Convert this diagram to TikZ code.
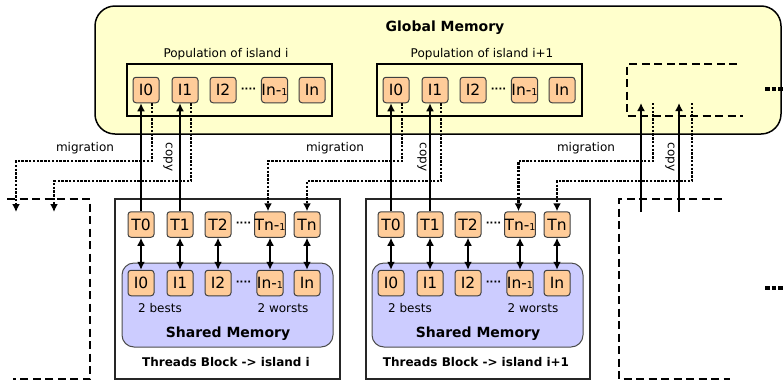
\documentclass[tikz,border=0pt]{standalone}
\usepackage{fontspec}
\setmainfont{DejaVu Sans}
\usetikzlibrary{arrows.meta}

\definecolor{globalyellow}{HTML}{FFFFCC}
\definecolor{cellorange}{HTML}{FFCC99}
\definecolor{memblue}{HTML}{CCCCFF}

\tikzset{
    cell/.style={draw=black!75, line width=1pt, fill=cellorange, rounded corners=3pt,
        minimum width=26pt, minimum height=25.5pt, inner sep=0pt, font=\fontsize{15.5}{15.5}\selectfont},
    lbl/.style={inner sep=0pt, font=\fontsize{12}{12}\selectfont},
    heading/.style={inner sep=0pt, font=\bfseries\fontsize{14}{14}\selectfont},
    blocklabel/.style={inner sep=0pt, font=\bfseries\fontsize{12}{12}\selectfont},
    celldots/.style={inner sep=0pt, font=\bfseries\fontsize{10}{10}\selectfont},
    copyarrow/.style={line width=2.5pt, -{Latex[length=8pt,width=8pt]}},
    duplex/.style={line width=2.5pt, {Latex[length=8pt,width=8pt]}-{Latex[length=8pt,width=8pt]}},
    migr/.style={line width=2.4pt, dash pattern=on 2.4pt off 1.4pt, -{Latex[length=8pt,width=8pt]}},
    phantom/.style={line width=2.4pt, dash pattern=on 8pt off 4.5pt},
    moredots/.style={line width=4.5pt, dash pattern=on 4.5pt off 2pt},
}

\begin{document}
\begin{tikzpicture}[x=1pt, y=-1pt]
    \useasboundingbox (0,0) rectangle (783,381);

    % Global memory
    \draw[line width=1.5pt, fill=globalyellow, rounded corners=20pt] (95,6) rectangle (781,134);
    \node[heading] (glob) at (445,28) {Global Memory};

    % Island i
    \begin{scope}[shift={(0,0)}]
        \draw[line width=1.6pt] (127,64) rectangle (332,116);
        \node[lbl] (popA) at (226,54) {Population of island i};
        \node[cell] (gA0) at (146,90) {I0};
        \node[cell] (gA1) at (185,90) {I1};
        \node[cell] (gA2) at (223,90) {I2};
        \node[celldots] (gAd) at (248.5,90) {····};
        \node[cell] (gAm) at (274.5,90) {In-{\fontsize{9.5}{10}\selectfont 1}};
        \node[cell] (gAn) at (312,90) {In};
        % threads block
        \draw[line width=1.6pt, draw=black!85] (115,199) rectangle (340,379);
        \draw[draw=black!70, line width=1pt, fill=memblue, rounded corners=12pt] (122,263) rectangle (333,347);
        \node[cell] (tA0) at (141,224.5) {T0};
        \node[cell] (tA1) at (180,224.5) {T1};
        \node[cell] (tA2) at (218,224.5) {T2};
        \node[celldots] (tAd) at (243.5,224.5) {····};
        \node[cell] (tAm) at (270,224.5) {Tn-{\fontsize{9.5}{10}\selectfont 1}};
        \node[cell] (tAn) at (307,224.5) {Tn};
        \node[cell] (sA0) at (141,283) {I0};
        \node[cell] (sA1) at (180,283) {I1};
        \node[cell] (sA2) at (218,283) {I2};
        \node[celldots] (sAd) at (243.5,283) {····};
        \node[cell] (sAm) at (270,283) {In-{\fontsize{9.5}{10}\selectfont 1}};
        \node[cell] (sAn) at (307,283) {In};
        \node[lbl] (bestA) at (160,308) {2 bests};
        \node[lbl] (worstA) at (283,308) {2 worsts};
        \node[heading] (shA) at (228,334) {Shared Memory};
        \node[blocklabel] (blkA) at (226,362) {Threads Block -> island i};
        \draw[duplex] (tA0) -- (sA0);
        \draw[duplex] (tA1) -- (sA1);
        \draw[duplex] (tA2) -- (sA2);
        \draw[duplex] (tAm) -- (sAm);
        \draw[duplex] (tAn) -- (sAn);
        \draw[copyarrow] (tA0.north) -- (tA0.north |- gA0.south);
        \draw[copyarrow] (tA1.north) -- (tA1.north |- gA1.south);
    \end{scope}

    % Island i+1
    \begin{scope}[shift={(250,0)}]
        \draw[line width=1.6pt] (127,64) rectangle (332,116);
        \node[lbl] (popB) at (232,54) {Population of island i+1};
        \node[cell] (gB0) at (146,90) {I0};
        \node[cell] (gB1) at (185,90) {I1};
        \node[cell] (gB2) at (223,90) {I2};
        \node[celldots] (gBd) at (248.5,90) {····};
        \node[cell] (gBm) at (274.5,90) {In-{\fontsize{9.5}{10}\selectfont 1}};
        \node[cell] (gBn) at (312,90) {In};
        % threads block
        \draw[line width=1.6pt, draw=black!85] (116,199) rectangle (340,379);
        \draw[draw=black!70, line width=1pt, fill=memblue, rounded corners=12pt] (122,263) rectangle (333,347);
        \node[cell] (tB0) at (141,224.5) {T0};
        \node[cell] (tB1) at (180,224.5) {T1};
        \node[cell] (tB2) at (218,224.5) {T2};
        \node[celldots] (tBd) at (243.5,224.5) {····};
        \node[cell] (tBm) at (270,224.5) {Tn-{\fontsize{9.5}{10}\selectfont 1}};
        \node[cell] (tBn) at (307,224.5) {Tn};
        \node[cell] (sB0) at (141,283) {I0};
        \node[cell] (sB1) at (180,283) {I1};
        \node[cell] (sB2) at (218,283) {I2};
        \node[celldots] (sBd) at (243.5,283) {····};
        \node[cell] (sBm) at (270,283) {In-{\fontsize{9.5}{10}\selectfont 1}};
        \node[cell] (sBn) at (307,283) {In};
        \node[lbl] (bestB) at (160,308) {2 bests};
        \node[lbl] (worstB) at (283,308) {2 worsts};
        \node[heading] (shB) at (228,334) {Shared Memory};
        \node[blocklabel] (blkB) at (226,362) {Threads Block -> island i+1};
        \draw[duplex] (tB0) -- (sB0);
        \draw[duplex] (tB1) -- (sB1);
        \draw[duplex] (tB2) -- (sB2);
        \draw[duplex] (tBm) -- (sBm);
        \draw[duplex] (tBn) -- (sBn);
        \draw[copyarrow] (tB0.north) -- (tB0.north |- gB0.south);
        \draw[copyarrow] (tB1.north) -- (tB1.north |- gB1.south);
    \end{scope}

    % Neighbouring islands, only hinted at
    \draw[phantom] (7,199) -- (90,199) -- (90,379) -- (13,379);
    \draw[phantom] (737,64) -- (627,64) -- (627,116) -- (743,116);
    \draw[phantom] (722,199) -- (619,199) -- (619,379) -- (730,379);
    \draw[moredots] (765,89) -- (783,89);
    \draw[moredots] (765,288) -- (783,288);
    \coordinate (tZm) at (16,212);
    \coordinate (tZn) at (54,212);
    \coordinate (tC0) at (641,212);
    \coordinate (tC1) at (679,212);
    \coordinate (gC0) at (646,103);
    \coordinate (gC1) at (685,103);
    \draw[copyarrow] (tC0) -- (tC0 |- gC0);
    \draw[copyarrow] (tC1) -- (tC1 |- gC1);

    % Migration between islands
    \draw[migr] ([xshift=6pt]gA0.south) -- ++(0,58) -| (tZm);
    \draw[migr] ([xshift=6pt]gA1.south) -- ++(0,78) -| (tZn);
    \draw[migr] ([xshift=6pt]gB0.south) -- ++(0,58) -| ([xshift=-2pt]tAm.north);
    \draw[migr] ([xshift=6pt]gB1.south) -- ++(0,78) -| (tAn.north);
    \draw[migr] ([xshift=7pt]gC0) -- ++(0,58) -| ([xshift=-1.5pt]tBm.north);
    \draw[migr] ([xshift=7pt]gC1) -- ++(0,78) -| (tBn.north);
    \node[lbl] (migA) at (85,148) {migration};
    \node[lbl] (migB) at (335,148) {migration};
    \node[lbl] (migC) at (586,148) {migration};
    \node[lbl, rotate=-90] (copyA) at (168,157) {copy};
    \node[lbl, rotate=-90] (copyB) at (422,157) {copy};
    \node[lbl, rotate=-90] (copyC) at (670,157) {copy};
\end{tikzpicture}
\end{document}
